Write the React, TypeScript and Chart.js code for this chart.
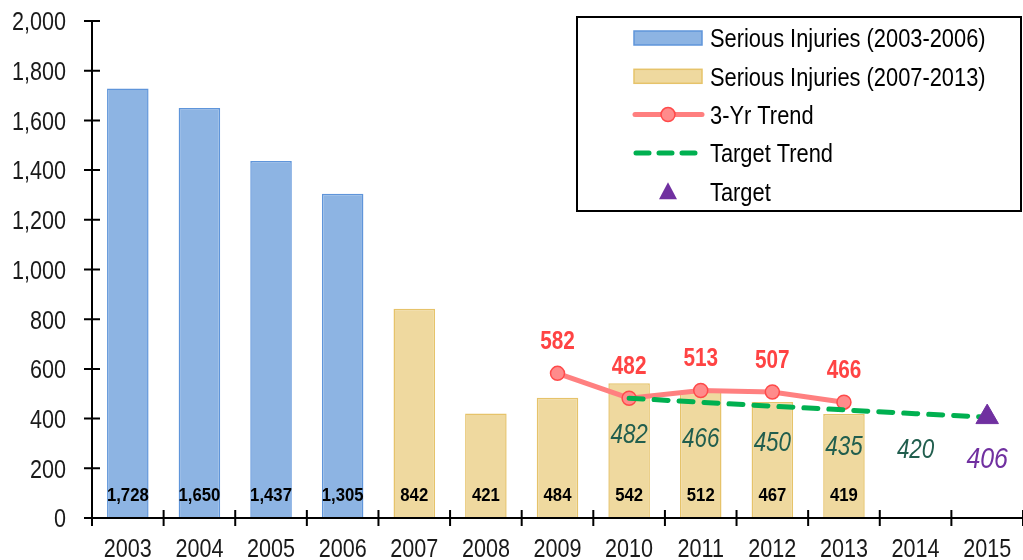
import React, { useEffect, useRef } from "react";
import { Chart, registerables } from "chart.js";

Chart.register(...registerables);

const years = ["2003", "2004", "2005", "2006", "2007", "2008", "2009", "2010", "2011", "2012", "2013", "2014", "2015"];
const injuries2003to2006 = [1728, 1650, 1437, 1305, null, null, null, null, null, null, null, null, null];
const injuries2007to2013 = [null, null, null, null, 842, 421, 484, 542, 512, 467, 419, null, null];
const trend3Yr = [null, null, null, null, null, null, 582, 482, 513, 507, 466, null, null];
const targetTrend = [null, null, null, null, null, null, null, 482, 466, 450, 435, 420, 406];
const target = [null, null, null, null, null, null, null, null, null, null, null, null, 406];
const yTicks = [0, 200, 400, 600, 800, 1000, 1200, 1400, 1600, 1800, 2000];

const FONT = "'Liberation Sans', Arial, sans-serif";
const SQUEEZE = 0.83;

const legendItems = [
  { label: "Serious Injuries (2003-2006)", kind: "bar", fill: "#8DB4E3", stroke: "#5F95DA" },
  { label: "Serious Injuries (2007-2013)", kind: "bar", fill: "#EFD99F", stroke: "#E6C36A" },
  { label: "3-Yr Trend", kind: "line", fill: "#FF8B8B", stroke: "#FF7F7F", border: "#FF4A4A" },
  { label: "Target Trend", kind: "dash", stroke: "#00B050" },
  { label: "Target", kind: "tri", fill: "#7030A0" },
];

const fmt = (v: number) => v.toLocaleString("en-US");

// draws horizontally condensed text whose digits/caps are vertically centred on cy
function drawText(ctx: any, text: string, x: number, cy: number, style: string, size: number, color: string, align: string, sx = SQUEEZE) {
  ctx.save();
  ctx.font = `${style} ${size}px ${FONT}`;
  ctx.fillStyle = color;
  ctx.textAlign = align;
  ctx.textBaseline = "alphabetic";
  ctx.translate(x, cy + 0.358 * size);
  ctx.scale(sx, 1);
  ctx.fillText(text, 0, 0);
  ctx.restore();
}

const overlayPlugin = {
  id: "overlay",
  afterDraw(chart: any) {
    const ctx = chart.ctx;
    const area = chart.chartArea;
    const ys = chart.scales.y;
    const xs = chart.scales.x;
    ctx.save();
    ctx.strokeStyle = "#000";
    ctx.lineWidth = 2;
    ctx.beginPath();
    yTicks.forEach((t) => {
      const y = ys.getPixelForValue(t);
      ctx.moveTo(area.left - 8, y);
      ctx.lineTo(area.left + 8, y);
    });
    for (let i = 0; i <= years.length; i++) {
      const x = area.left + ((area.right - area.left) * i) / years.length;
      ctx.moveTo(x, area.bottom + 8);
      ctx.lineTo(x, area.bottom - 8);
    }
    ctx.moveTo(area.left, area.top);
    ctx.lineTo(area.left, area.bottom + 1);
    ctx.moveTo(area.left - 1, area.bottom);
    ctx.lineTo(area.right, area.bottom);
    ctx.stroke();
    ctx.restore();

    // axis tick labels
    yTicks.forEach((t) => {
      drawText(ctx, fmt(t), area.left - 26, ys.getPixelForValue(t), "", 26, "#1a1a1a", "right");
    });
    years.forEach((yr, i) => {
      drawText(ctx, yr, xs.getPixelForValue(i), area.bottom + 30, "", 26, "#1a1a1a", "center");
    });

    // bar value labels
    [0, 1].forEach((di) => {
      const meta = chart.getDatasetMeta(di);
      const data = chart.data.datasets[di].data;
      meta.data.forEach((el: any, i: number) => {
        if (data[i] == null) return;
        drawText(ctx, fmt(data[i]), el.x, area.bottom - 24, "bold", 19, "#000", "center", 0.88);
      });
    });

    // 3-yr trend labels
    chart.getDatasetMeta(2).data.forEach((el: any, i: number) => {
      if (trend3Yr[i] == null) return;
      drawText(ctx, String(trend3Yr[i]), el.x, el.y - 33, "bold", 25, "#FF4343", "center");
    });
    // target trend labels
    chart.getDatasetMeta(3).data.forEach((el: any, i: number) => {
      if (targetTrend[i] == null || target[i] != null) return;
      drawText(ctx, String(targetTrend[i]), el.x, el.y + 35, "italic", 27, "#215E4E", "center");
    });
    // target label
    chart.getDatasetMeta(4).data.forEach((el: any, i: number) => {
      if (target[i] == null) return;
      drawText(ctx, String(target[i]), el.x, el.y + 40, "italic", 30, "#7030A0", "center");
    });

    // legend
    ctx.save();
    const lx = 577, ly = 17, lw = 444, lh = 194;
    ctx.fillStyle = "#fff";
    ctx.fillRect(lx, ly, lw, lh);
    ctx.strokeStyle = "#000";
    ctx.lineWidth = 2;
    ctx.strokeRect(lx, ly, lw, lh);
    legendItems.forEach((it, i) => {
      const cy = 38 + i * 38.3;
      if (it.kind === "bar") {
        ctx.fillStyle = it.fill!;
        ctx.fillRect(634, cy - 7, 68, 14);
        ctx.strokeStyle = it.stroke!;
        ctx.lineWidth = 1.5;
        ctx.strokeRect(634, cy - 7, 68, 14);
      } else if (it.kind === "line") {
        ctx.strokeStyle = it.stroke!;
        ctx.lineWidth = 5;
        ctx.lineCap = "round";
        ctx.beginPath();
        ctx.moveTo(635, cy);
        ctx.lineTo(702, cy);
        ctx.stroke();
        ctx.beginPath();
        ctx.arc(668, cy, 7, 0, Math.PI * 2);
        ctx.fillStyle = it.fill!;
        ctx.fill();
        ctx.strokeStyle = it.border!;
        ctx.lineWidth = 1.5;
        ctx.stroke();
      } else if (it.kind === "dash") {
        ctx.strokeStyle = it.stroke!;
        ctx.lineWidth = 5;
        ctx.lineCap = "round";
        ctx.setLineDash([13, 10]);
        ctx.beginPath();
        ctx.moveTo(636, cy);
        ctx.lineTo(698, cy);
        ctx.stroke();
        ctx.setLineDash([]);
      } else {
        ctx.fillStyle = it.fill!;
        ctx.beginPath();
        ctx.moveTo(668, cy - 9);
        ctx.lineTo(677, cy + 8);
        ctx.lineTo(659, cy + 8);
        ctx.closePath();
        ctx.fill();
      }
      drawText(ctx, it.label, 710, cy, "", 26, "#000", "left", 0.84);
    });
    ctx.restore();
  },
};

export default function App() {
  const ref = useRef<HTMLCanvasElement>(null);
  useEffect(() => {
    const chart = new Chart(ref.current!, {
      type: "bar",
      data: {
        labels: years,
        datasets: [
          {
            type: "bar",
            label: "Serious Injuries (2003-2006)",
            data: injuries2003to2006,
            backgroundColor: "#8DB4E3",
            borderColor: "#5F95DA",
            borderWidth: 1.5,
            barPercentage: 0.58,
            categoryPercentage: 1,
            grouped: false,
            order: 5,
          } as any,
          {
            type: "bar",
            label: "Serious Injuries (2007-2013)",
            data: injuries2007to2013,
            backgroundColor: "#EFD99F",
            borderColor: "#E6C36A",
            borderWidth: 1.5,
            barPercentage: 0.58,
            categoryPercentage: 1,
            grouped: false,
            order: 4,
          } as any,
          {
            type: "line",
            label: "3-Yr Trend",
            data: trend3Yr,
            borderColor: "#FF8080",
            borderWidth: 5,
            pointRadius: 7,
            pointBackgroundColor: "#FF8B8B",
            pointBorderColor: "#FF4A4A",
            pointBorderWidth: 1.5,
            spanGaps: false,
            order: 2,
          } as any,
          {
            type: "line",
            label: "Target Trend",
            data: targetTrend,
            borderColor: "#00B050",
            borderWidth: 5,
            borderDash: [14, 11],
            borderCapStyle: "round",
            pointRadius: 0,
            order: 1,
          } as any,
          {
            type: "line",
            label: "Target",
            data: target,
            showLine: false,
            pointStyle: "triangle",
            pointRadius: 13,
            pointBackgroundColor: "#7030A0",
            pointBorderColor: "#7030A0",
            order: 0,
          } as any,
        ],
      },
      options: {
        animation: false,
        responsive: false,
        maintainAspectRatio: false,
        layout: { autoPadding: false, padding: { top: 21, right: 0, left: 92, bottom: 42 } },
        plugins: { legend: { display: false }, tooltip: { enabled: false } },
        scales: {
          x: {
            display: false,
            offset: true,
            grid: { offset: true },
          },
          y: {
            display: false,
            min: 0,
            max: 2000,
          },
        },
      },
      plugins: [overlayPlugin],
    });
    return () => chart.destroy();
  }, []);
  return (
    <div style={{ position: "fixed", left: 0, top: 0, width: 1023, height: 560, background: "#fff" }}>
      <canvas ref={ref} width={1023} height={560} style={{ width: 1023, height: 560 }} />
    </div>
  );
}
